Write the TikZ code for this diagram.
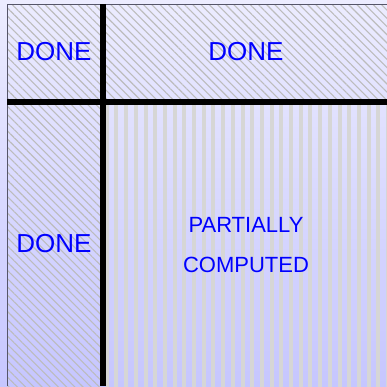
\documentclass[tikz,border=0pt]{standalone}
\usepackage{fontspec}
\setmainfont{Liberation Sans}
\usepackage{tikz}
\usetikzlibrary{patterns.meta}

\definecolor{bgtop}{RGB}{236,236,255}
\definecolor{bgbottom}{RGB}{198,198,255}
\definecolor{frame}{RGB}{85,85,105}
\definecolor{hatch}{RGB}{188,188,188}
\definecolor{stripe}{RGB}{214,214,214}

\tikzset{
  done/.style={pattern={Lines[angle=-45,distance=5.8pt,line width=1.1pt]},pattern color=hatch},
  partial/.style={pattern={Lines[angle=90,distance=9.7pt,line width=4pt]},pattern color=stripe},
  label/.style={text=blue,font=\fontsize{26}{30}\selectfont,inner sep=0pt},
  small label/.style={text=blue,font=\fontsize{22}{40}\selectfont,inner sep=0pt,align=center},
  divider/.style={line width=6pt,black}
}

\begin{document}
\begin{tikzpicture}[x=1pt,y=-1pt]
\useasboundingbox (0,0) rectangle (387,386);
\shade[top color=bgtop,bottom color=bgbottom] (0,0) rectangle (387,386);

% cells
\fill[done] (7,4) rectangle (100,99);
\fill[done] (106,4) rectangle (387,99);
\fill[done] (7,105) rectangle (100,386);
\fill[partial] (106,105) rectangle (387,386);

% frame and dividers
\draw[frame,line width=1pt] (7,386) -- (7,4) -- (387,4);
\draw[divider] (103,4) -- (103,386);
\draw[divider] (7,102) -- (387,102);

\node[label] (TL) at (54,52) {DONE};
\node[label] (TR) at (246,52) {DONE};
\node[label] (BL) at (54,244) {DONE};
\node[small label] (BR) at (246,245) {PARTIALLY\\COMPUTED};
\end{tikzpicture}
\end{document}
